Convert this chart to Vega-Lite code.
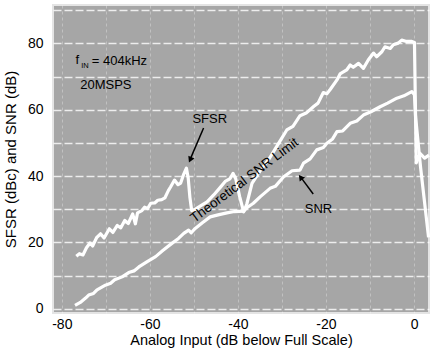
{
  "$schema": "https://vega.github.io/schema/vega-lite/v6.json",
  "width": 376,
  "height": 308,
  "autosize": "none",
  "padding": {"left": 53, "top": 5, "right": 4, "bottom": 45},
  "background": "white",
  "config": {
    "view": {"fill": "#a6a6a6", "stroke": "#e4e4e4", "strokeWidth": 2},
    "font": "Liberation Sans",
    "text": {"font": "Liberation Sans", "color": "black"}
  },
  "datasets": {
    "curves": [
      {"series": "SFSR", "x": -76.7, "y": 15.8}, {"series": "SFSR", "x": -76.0, "y": 16.6}, {"series": "SFSR", "x": -75.2, "y": 16.2},
      {"series": "SFSR", "x": -74.4, "y": 18.4}, {"series": "SFSR", "x": -73.6, "y": 19.8}, {"series": "SFSR", "x": -73.0, "y": 18.9},
      {"series": "SFSR", "x": -72.1, "y": 21.4}, {"series": "SFSR", "x": -71.2, "y": 22.6}, {"series": "SFSR", "x": -70.4, "y": 21.3},
      {"series": "SFSR", "x": -69.2, "y": 24.1}, {"series": "SFSR", "x": -68.4, "y": 23.0}, {"series": "SFSR", "x": -67.4, "y": 25.1},
      {"series": "SFSR", "x": -66.6, "y": 24.4}, {"series": "SFSR", "x": -65.7, "y": 26.6}, {"series": "SFSR", "x": -64.9, "y": 25.7},
      {"series": "SFSR", "x": -63.9, "y": 28.6}, {"series": "SFSR", "x": -63.3, "y": 25.6}, {"series": "SFSR", "x": -62.8, "y": 28.9},
      {"series": "SFSR", "x": -61.8, "y": 29.6}, {"series": "SFSR", "x": -61.2, "y": 30.6}, {"series": "SFSR", "x": -60.5, "y": 30.2},
      {"series": "SFSR", "x": -59.8, "y": 31.8}, {"series": "SFSR", "x": -58.9, "y": 31.9}, {"series": "SFSR", "x": -58.2, "y": 32.7},
      {"series": "SFSR", "x": -57.3, "y": 32.9}, {"series": "SFSR", "x": -56.6, "y": 33.4}, {"series": "SFSR", "x": -55.8, "y": 35.6},
      {"series": "SFSR", "x": -55.3, "y": 36.7}, {"series": "SFSR", "x": -54.4, "y": 38.8}, {"series": "SFSR", "x": -53.6, "y": 37.4},
      {"series": "SFSR", "x": -53.0, "y": 37.9}, {"series": "SFSR", "x": -52.3, "y": 40.6}, {"series": "SFSR", "x": -51.7, "y": 42.4},
      {"series": "SFSR", "x": -51.3, "y": 39.5}, {"series": "SFSR", "x": -50.9, "y": 33.5}, {"series": "SFSR", "x": -50.5, "y": 29.6},
      {"series": "SFSR", "x": -49.8, "y": 29.9}, {"series": "SFSR", "x": -48.5, "y": 31.0}, {"series": "SFSR", "x": -47.0, "y": 32.2},
      {"series": "SFSR", "x": -45.5, "y": 34.3}, {"series": "SFSR", "x": -44.0, "y": 36.6}, {"series": "SFSR", "x": -42.8, "y": 38.5},
      {"series": "SFSR", "x": -41.8, "y": 39.2}, {"series": "SFSR", "x": -41.1, "y": 40.8}, {"series": "SFSR", "x": -40.5, "y": 39.2},
      {"series": "SFSR", "x": -39.6, "y": 33.8}, {"series": "SFSR", "x": -38.7, "y": 29.2}, {"series": "SFSR", "x": -38.0, "y": 31.5},
      {"series": "SFSR", "x": -36.8, "y": 37.8}, {"series": "SFSR", "x": -35.0, "y": 41.5}, {"series": "SFSR", "x": -33.0, "y": 45.0},
      {"series": "SFSR", "x": -30.8, "y": 49.8}, {"series": "SFSR", "x": -28.9, "y": 53.9}, {"series": "SFSR", "x": -27.5, "y": 55.0},
      {"series": "SFSR", "x": -25.9, "y": 58.2}, {"series": "SFSR", "x": -24.5, "y": 59.0}, {"series": "SFSR", "x": -22.8, "y": 61.0},
      {"series": "SFSR", "x": -21.8, "y": 62.0}, {"series": "SFSR", "x": -20.6, "y": 65.2}, {"series": "SFSR", "x": -19.8, "y": 64.8},
      {"series": "SFSR", "x": -19.0, "y": 66.2}, {"series": "SFSR", "x": -17.5, "y": 69.0}, {"series": "SFSR", "x": -16.8, "y": 70.8},
      {"series": "SFSR", "x": -15.3, "y": 72.0}, {"series": "SFSR", "x": -14.5, "y": 73.5}, {"series": "SFSR", "x": -13.8, "y": 72.8},
      {"series": "SFSR", "x": -12.6, "y": 74.0}, {"series": "SFSR", "x": -11.5, "y": 72.5}, {"series": "SFSR", "x": -10.4, "y": 75.0},
      {"series": "SFSR", "x": -9.2, "y": 77.1}, {"series": "SFSR", "x": -8.5, "y": 76.0}, {"series": "SFSR", "x": -7.3, "y": 77.5},
      {"series": "SFSR", "x": -6.6, "y": 79.0}, {"series": "SFSR", "x": -5.4, "y": 78.5}, {"series": "SFSR", "x": -4.7, "y": 79.6},
      {"series": "SFSR", "x": -3.6, "y": 80.1}, {"series": "SFSR", "x": -2.8, "y": 81.0}, {"series": "SFSR", "x": -1.7, "y": 80.6},
      {"series": "SFSR", "x": -0.5, "y": 80.6}, {"series": "SFSR", "x": 0.1, "y": 80.3}, {"series": "SFSR", "x": 0.3, "y": 62.0},
      {"series": "SFSR", "x": 0.5, "y": 44.0}, {"series": "SFSR", "x": 1.4, "y": 46.8}, {"series": "SFSR", "x": 2.4, "y": 45.4},
      {"series": "SFSR", "x": 3.4, "y": 46.3},
      {"series": "SNR", "x": -77.0, "y": 1.0}, {"series": "SNR", "x": -75.8, "y": 1.9}, {"series": "SNR", "x": -74.6, "y": 3.2},
      {"series": "SNR", "x": -73.9, "y": 4.1}, {"series": "SNR", "x": -72.8, "y": 4.6}, {"series": "SNR", "x": -72.0, "y": 5.7},
      {"series": "SNR", "x": -70.1, "y": 7.1}, {"series": "SNR", "x": -68.9, "y": 7.7}, {"series": "SNR", "x": -68.0, "y": 8.7},
      {"series": "SNR", "x": -66.3, "y": 9.6}, {"series": "SNR", "x": -64.8, "y": 10.9}, {"series": "SNR", "x": -63.6, "y": 11.4},
      {"series": "SNR", "x": -62.5, "y": 12.6}, {"series": "SNR", "x": -60.6, "y": 14.2}, {"series": "SNR", "x": -58.7, "y": 15.7},
      {"series": "SNR", "x": -57.0, "y": 17.6}, {"series": "SNR", "x": -55.0, "y": 19.7}, {"series": "SNR", "x": -53.5, "y": 21.2},
      {"series": "SNR", "x": -52.3, "y": 22.7}, {"series": "SNR", "x": -51.2, "y": 23.7}, {"series": "SNR", "x": -50.6, "y": 22.9},
      {"series": "SNR", "x": -49.7, "y": 24.2}, {"series": "SNR", "x": -48.0, "y": 26.0}, {"series": "SNR", "x": -46.3, "y": 27.7},
      {"series": "SNR", "x": -44.5, "y": 28.3}, {"series": "SNR", "x": -42.5, "y": 28.9}, {"series": "SNR", "x": -40.8, "y": 29.3},
      {"series": "SNR", "x": -38.7, "y": 29.4}, {"series": "SNR", "x": -37.8, "y": 30.6}, {"series": "SNR", "x": -36.5, "y": 31.8},
      {"series": "SNR", "x": -34.9, "y": 33.8}, {"series": "SNR", "x": -32.7, "y": 36.3}, {"series": "SNR", "x": -31.5, "y": 36.9},
      {"series": "SNR", "x": -29.6, "y": 39.8}, {"series": "SNR", "x": -27.7, "y": 41.6}, {"series": "SNR", "x": -25.9, "y": 41.8},
      {"series": "SNR", "x": -25.1, "y": 43.9}, {"series": "SNR", "x": -23.6, "y": 45.2}, {"series": "SNR", "x": -22.1, "y": 47.9},
      {"series": "SNR", "x": -20.6, "y": 48.6}, {"series": "SNR", "x": -19.8, "y": 49.9}, {"series": "SNR", "x": -18.5, "y": 51.2},
      {"series": "SNR", "x": -17.5, "y": 53.4}, {"series": "SNR", "x": -16.2, "y": 53.6}, {"series": "SNR", "x": -14.5, "y": 55.9},
      {"series": "SNR", "x": -13.0, "y": 56.6}, {"series": "SNR", "x": -11.5, "y": 58.4}, {"series": "SNR", "x": -9.8, "y": 59.4},
      {"series": "SNR", "x": -7.7, "y": 60.9}, {"series": "SNR", "x": -6.0, "y": 62.0}, {"series": "SNR", "x": -3.9, "y": 63.5},
      {"series": "SNR", "x": -2.3, "y": 64.2}, {"series": "SNR", "x": -0.5, "y": 65.5}, {"series": "SNR", "x": 0.1, "y": 64.5},
      {"series": "SNR", "x": 0.35, "y": 57.9}, {"series": "SNR", "x": 1.5, "y": 42.5}, {"series": "SNR", "x": 3.3, "y": 21.5}
    ]
  },
  "encoding": {
    "x": {
      "field": "x", "type": "quantitative",
      "scale": {"domain": [-82, 3.4], "nice": false, "zero": false},
      "axis": {
        "values": [-80, -70, -60, -50, -40, -30, -20, -10, 0],
        "labelExpr": "datum.value % 20 == 0 ? '' + datum.value : ''",
        "title": "Analog Input  (dB below Full Scale)",
        "grid": true, "gridColor": "white", "gridDash": [3, 3], "gridOpacity": 0.3, "gridWidth": 1,
        "ticks": false, "domain": false,
        "labelFont": "Liberation Sans", "labelFontSize": 14, "labelColor": "black", "labelPadding": 4,
        "titleFont": "Liberation Sans", "titleFontSize": 14.5, "titleFontWeight": "normal", "titleColor": "black", "titlePadding": 2
      }
    },
    "y": {
      "field": "y", "type": "quantitative",
      "scale": {"domain": [-1.3, 91.6], "nice": false, "zero": false},
      "axis": {
        "values": [0, 10, 20, 30, 40, 50, 60, 70, 80, 90],
        "labelExpr": "datum.value % 20 == 0 ? '' + datum.value : ''",
        "title": "SFSR (dBc) and SNR (dB)",
        "grid": true, "gridColor": "white", "gridDash": [8, 3], "gridOpacity": 0.8, "gridWidth": 1.5,
        "ticks": false, "domain": false,
        "labelFont": "Liberation Sans", "labelFontSize": 14, "labelColor": "black", "labelPadding": 10,
        "titleFont": "Liberation Sans", "titleFontSize": 15, "titleFontWeight": "normal", "titleColor": "black", "titlePadding": 9
      }
    }
  },
  "layer": [
    {
      "data": {"name": "curves"},
      "mark": {"type": "line", "color": "white", "strokeWidth": 3.2, "strokeJoin": "round"},
      "encoding": {"detail": {"field": "series"}}
    },
    {
      "data": {"values": [
        {"label": "20MSPS", "x": -70.0, "y": 67.5},
        {"label": "SFSR", "x": -46.4, "y": 57.2},
        {"label": "SNR", "x": -21.7, "y": 30.1}
      ]},
      "mark": {"type": "text", "fontSize": 13, "align": "center", "baseline": "middle"},
      "encoding": {"text": {"field": "label"}}
    },
    {
      "data": {"values": [
        {"label": "f", "x": -76.9, "y": 74.9},
        {"label": "= 404kHz", "x": -73.2, "y": 74.7}
      ]},
      "mark": {"type": "text", "fontSize": 13, "align": "left", "baseline": "middle"},
      "encoding": {"text": {"field": "label"}}
    },
    {
      "data": {"values": [{"label": "IN", "x": -75.6, "y": 73.2}]},
      "mark": {"type": "text", "fontSize": 7.5, "align": "left", "baseline": "middle"},
      "encoding": {"text": {"field": "label"}}
    },
    {
      "data": {"values": [{"label": "Theoretical SNR Limit", "x": -38.5, "y": 38.7}]},
      "mark": {"type": "text", "fontSize": 13.5, "align": "center", "baseline": "middle", "angle": 323},
      "encoding": {"text": {"field": "label"}}
    },
    {
      "data": {"values": [
        {"x": -47.8, "y": 54.5, "x2": -50.8, "y2": 45.2},
        {"x": -22.9, "y": 34.6, "x2": -25.7, "y2": 39.6}
      ]},
      "mark": {"type": "rule", "color": "black", "strokeWidth": 1.5},
      "encoding": {"x2": {"field": "x2"}, "y2": {"field": "y2"}}
    },
    {
      "data": {"values": [{"x": -50.85, "y": 44.9}]},
      "mark": {"type": "point", "shape": "triangle-up", "filled": true, "color": "black", "opacity": 1, "size": 45, "angle": 205},
      "encoding": {}
    },
    {
      "data": {"values": [{"x": -25.76, "y": 39.66}]},
      "mark": {"type": "point", "shape": "triangle-up", "filled": true, "color": "black", "opacity": 1, "size": 45, "angle": 323},
      "encoding": {}
    }
  ]
}
